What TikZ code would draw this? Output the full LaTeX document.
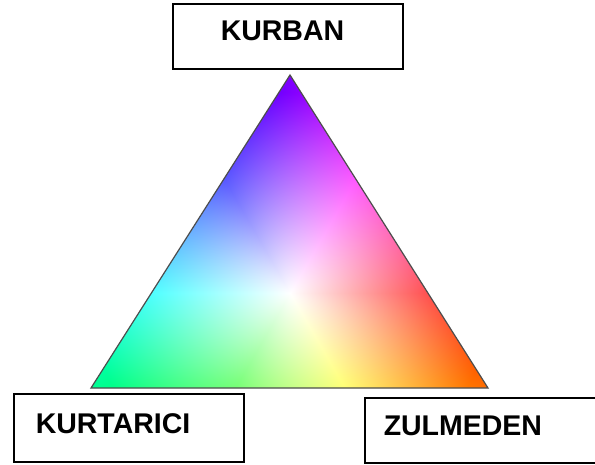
\documentclass[tikz,border=0pt]{standalone}
\usepackage{fontspec}
\setmainfont{Liberation Sans}
\usetikzlibrary{positioning}
% hue by angle round the centre, white in the middle
\pgfdeclarefunctionalshading{huewheel}{\pgfpoint{-260bp}{-260bp}}{\pgfpoint{260bp}{260bp}}{}{
  2 copy neg exch atan
  3 1 roll dup mul exch dup mul add sqrt
  200 div dup 1 gt {pop 1} if
  1 index 60 div 5 add dup 6 div floor 6 mul sub
  dup 4 exch sub 2 copy gt {exch} if pop
  dup 1 gt {pop 1} if dup 0 lt {pop 0} if
  1 index mul 1 exch sub 3 1 roll
  1 index 60 div 3 add dup 6 div floor 6 mul sub
  dup 4 exch sub 2 copy gt {exch} if pop
  dup 1 gt {pop 1} if dup 0 lt {pop 0} if
  1 index mul 1 exch sub 3 1 roll
  1 index 60 div 1 add dup 6 div floor 6 mul sub
  dup 4 exch sub 2 copy gt {exch} if pop
  dup 1 gt {pop 1} if dup 0 lt {pop 0} if
  1 index mul 1 exch sub 3 1 roll
  pop pop
}
\definecolor{EdgeGray}{HTML}{4D4D4D}

\begin{document}
\begin{tikzpicture}[x=1pt,y=-1pt,
  namebox/.style={draw,line width=1.5pt,anchor=north west,align=left,
    font=\bfseries\fontsize{28.5}{30}\selectfont,text height=20pt,inner ysep=0pt},
  triedge/.style={draw=EdgeGray,line width=1.2pt,line join=miter}]
  \useasboundingbox (0,0) rectangle (595,464);
  \coordinate (apex) at (290,75);
  \coordinate (leftpt) at (91,388);
  \coordinate (rightpt) at (488,388);
  \coordinate (mid) at (290,293);
  \begin{scope}
    \clip (apex) -- (leftpt) -- (rightpt) -- cycle;
    \node[inner sep=0pt] (wheel) at (mid) {\pgfuseshading{huewheel}};
  \end{scope}
  \draw[triedge] (apex) -- (leftpt) -- (rightpt) -- cycle;
  \node[namebox,inner xsep=48pt,text width=134pt,minimum height=65pt,text depth=12pt] (kurban) at (172,3) {KURBAN};
  \node[namebox,inner xsep=22pt,text width=186pt,minimum height=68pt,text depth=9pt] (kurtarici) at (13,393) {KURTARICI};
  \node[namebox,inner xsep=19pt,text width=204pt,minimum height=65pt,text depth=9pt] (zulmeden) at (364,397) {ZULMEDEN};
\end{tikzpicture}
\end{document}
